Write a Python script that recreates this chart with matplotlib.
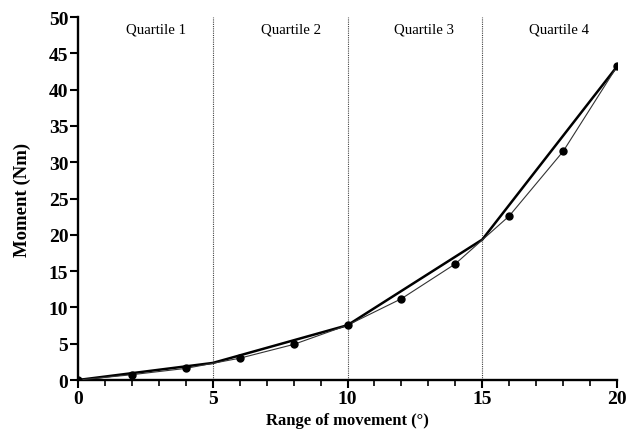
import matplotlib
matplotlib.use("Agg")
import matplotlib.pyplot as plt
from matplotlib.ticker import MultipleLocator

plt.rcParams['font.family'] = ['Liberation Serif', 'DejaVu Serif']

# Data
angle = [0, 2, 4, 6, 8, 10, 12, 14, 16, 18, 20]
moment = [0, 0.73, 1.6, 3.0, 4.9, 7.55, 11.2, 16.0, 22.6, 31.5, 43.2]
quartile_x = [0, 5, 10, 15, 20]
quartile_y = [0, 2.35, 7.55, 19.35, 43.2]
boundaries = [5, 10, 15]
quartile_labels = ["Quartile 1", "Quartile 2", "Quartile 3", "Quartile 4"]
quartile_label_x = [2.9, 7.9, 12.85, 17.85]

fig = plt.figure(figsize=(6.29, 4.31), dpi=100)
ax = fig.add_axes([0.124, 0.116, 0.857, 0.842])

for b in boundaries:
    ax.plot([b, b], [0, 50], linestyle=(0, (1, 1)), color='#444444', linewidth=0.8, zorder=1)

ax.plot(angle, moment, color='#333333', linewidth=0.8, marker='o', markersize=5,
        markerfacecolor='black', markeredgecolor='black', zorder=3)
ax.plot(quartile_x, quartile_y, color='black', linewidth=1.8, zorder=2)

for lx, lab in zip(quartile_label_x, quartile_labels):
    ax.text(lx, 48.4, lab, ha='center', va='center', fontsize=10.7)

ax.set_xlim(0, 20)
ax.set_ylim(0, 50)
ax.xaxis.set_major_locator(MultipleLocator(5))
ax.xaxis.set_minor_locator(MultipleLocator(1))
ax.yaxis.set_major_locator(MultipleLocator(5))

for s in ['top', 'right']:
    ax.spines[s].set_visible(False)
for s in ['left', 'bottom']:
    ax.spines[s].set_linewidth(1.7)

ax.tick_params(axis='both', which='major', direction='out', length=6, width=1.5, labelsize=14, pad=1)
ax.tick_params(axis='x', which='minor', direction='out', length=4, width=1.2)
for lbl in ax.get_xticklabels() + ax.get_yticklabels():
    lbl.set_fontweight('bold')

ax.set_xlabel("Range of movement (°)", fontsize=12, fontweight='bold', labelpad=4)
ax.set_ylabel("Moment (Nm)", fontsize=13.5, fontweight='bold', labelpad=13)

fig.savefig("out.png", dpi=100)
